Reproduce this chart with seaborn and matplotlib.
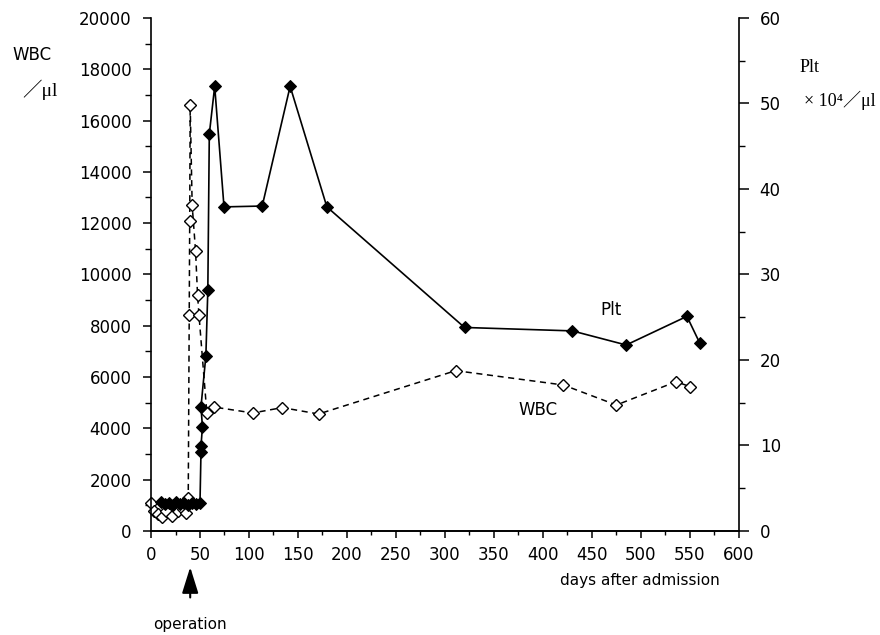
import matplotlib
matplotlib.use("Agg")
import matplotlib.pyplot as plt
from matplotlib.ticker import MultipleLocator
import pandas as pd
import seaborn as sns

# WBC (/ul), open diamonds, dashed line
wbc_days = [0, 3, 7, 11, 15, 21, 28, 33, 36, 38, 39, 39.5, 40, 42, 45.5, 47.5, 49,
            57, 64.5, 104, 134, 171, 311, 421, 475, 536, 550]
wbc_vals = [1100, 770, 680, 560, 760, 580, 790, 870, 700, 1300, 8400, 12100, 16600,
            12700, 10900, 9200, 8400, 4600, 4830, 4600, 4810, 4560, 6250, 5690,
            4910, 5820, 5630]

# Plt (x10^4 /ul), filled diamonds, solid line
plt_days = [10, 14, 18, 22, 26, 30, 34, 38, 42, 46, 50, 51, 51, 52.5, 51, 56, 58,
            59.5, 65, 74.5, 113.5, 142, 179.5, 320, 430, 485, 547, 560]
plt_vals = [3.4, 3.1, 3.3, 3.0, 3.4, 3.1, 3.3, 3.0, 3.3, 3.1, 3.3, 9.2, 9.9, 12.2,
            14.5, 20.5, 28.2, 46.4, 52.0, 37.9, 38.0, 52.0, 37.9, 23.8, 23.4,
            21.75, 25.1, 22.0]

df_wbc = pd.DataFrame({"day": wbc_days, "wbc": wbc_vals})
df_plt = pd.DataFrame({"day": plt_days, "plt": plt_vals})

sns.set_style("ticks", {"axes.edgecolor": "black", "text.color": "black",
                        "xtick.color": "black", "ytick.color": "black"})
plt.rcParams["font.family"] = ["DejaVu Sans"]

fig = plt.figure(figsize=(8.8, 6.35), dpi=100)
ax = fig.add_axes([0.1716, 0.1638, 0.668, 0.808])
ax2 = ax.twinx()

sns.lineplot(data=df_wbc, x="day", y="wbc", ax=ax, sort=False, estimator=None,
             color="black", linewidth=1.1, linestyle=(0, (4, 3)),
             marker="D", markersize=6, markerfacecolor="white",
             markeredgecolor="black", markeredgewidth=1.0, clip_on=False)
sns.lineplot(data=df_plt, x="day", y="plt", ax=ax2, sort=False, estimator=None,
             color="black", linewidth=1.2, marker="D", markersize=6,
             markerfacecolor="black", markeredgecolor="black", clip_on=False)

ax.set_xlim(0, 600)
ax.set_ylim(0, 20000)
ax2.set_ylim(0, 60)

ax.xaxis.set_major_locator(MultipleLocator(50))
ax.xaxis.set_minor_locator(MultipleLocator(25))
ax.yaxis.set_major_locator(MultipleLocator(2000))
ax.yaxis.set_minor_locator(MultipleLocator(1000))
ax2.yaxis.set_major_locator(MultipleLocator(10))
ax2.yaxis.set_minor_locator(MultipleLocator(5))

for a in (ax, ax2):
    a.set_xlabel("")
    a.set_ylabel("")
    a.spines["top"].set_visible(False)
    for s in a.spines.values():
        s.set_linewidth(1.2)
        s.set_color("black")
ax.spines["right"].set_visible(False)
ax2.spines["left"].set_visible(False)

ax.tick_params(axis="x", which="major", direction="out", length=5, width=1.1,
               pad=6, labelsize=12, colors="black")
ax.tick_params(axis="x", which="minor", direction="out", length=3, width=1.0)
ax.tick_params(axis="y", which="major", direction="out", length=6, width=1.1,
               pad=8, labelsize=12, colors="black")
ax.tick_params(axis="y", which="minor", direction="out", length=4, width=1.0)
ax2.tick_params(axis="y", which="major", direction="out", length=7, width=1.1,
                pad=8, labelsize=12, colors="black")
ax2.tick_params(axis="y", which="minor", direction="out", length=4, width=1.0)

# in-plot series labels
ax.text(470, 8620, "Plt", fontsize=12, ha="center", va="center")
ax.text(395, 4720, "WBC", fontsize=12, ha="center", va="center")

# axis titles
fig.text(32 / 880, 1 - 55 / 635, "WBC", fontsize=12, ha="center", va="center")
fig.text(40 / 880, 1 - 90 / 635, "／μl", fontsize=14, ha="center", va="center",
         family=["Liberation Serif", "Noto Sans CJK JP"])
fig.text(810 / 880, 1 - 68 / 635, "Plt", fontsize=13, ha="center", va="center",
         family=["Liberation Serif", "DejaVu Serif"])
fig.text(840 / 880, 1 - 100 / 635, "× 10⁴／μl", fontsize=13, ha="center",
         va="center", family=["Liberation Serif", "DejaVu Serif", "Noto Sans CJK JP"])

fig.text(640 / 880, 1 - 580 / 635, "days after admission", fontsize=11,
         ha="center", va="center")

# operation marker
ax.annotate("", xy=(40, -0.065), xycoords=("data", "axes fraction"),
            xytext=(40, -0.135), textcoords=("data", "axes fraction"),
            arrowprops=dict(arrowstyle="-|>,head_width=0.5,head_length=1.6",
                            color="black", lw=1.5))
fig.text(190 / 880, 1 - 625 / 635, "operation", fontsize=11, ha="center",
         va="center")

fig.savefig("out.png", dpi=100)
